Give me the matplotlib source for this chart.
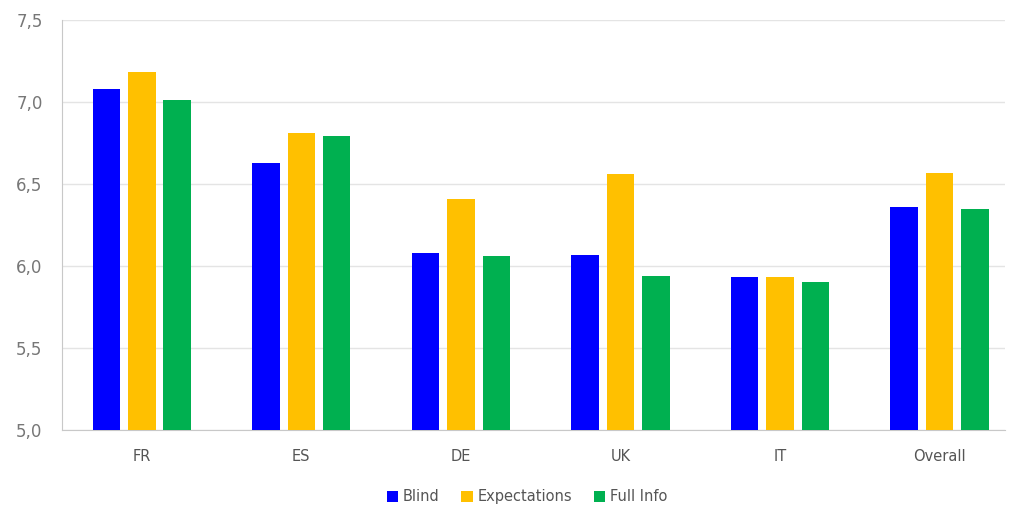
import matplotlib.pyplot as plt
import numpy as np

categories = ['FR', 'ES', 'DE', 'UK', 'IT', 'Overall']
blind = [7.08, 6.63, 6.08, 6.07, 5.93, 6.36]
expectations = [7.18, 6.81, 6.41, 6.56, 5.93, 6.57]
full_info = [7.01, 6.79, 6.06, 5.94, 5.90, 6.35]
yticks = [5.0, 5.5, 6.0, 6.5, 7.0, 7.5]

plt.rcParams['font.family'] = ['DejaVu Sans']

fig = plt.figure(figsize=(10.09, 5.11), dpi=100)
ax = fig.add_axes([62/1009, 81/511, 943/1009, 410/511])

x = np.arange(len(categories))
w = 0.172
off = 0.222
ax.bar(x - off, blind, w, color='#0000FF', label='Blind', zorder=3)
ax.bar(x, expectations, w, color='#FFC000', label='Expectations', zorder=3)
ax.bar(x + off, full_info, w, color='#00B050', label='Full Info', zorder=3)

# plot area is a bit narrower than six full category slots
ax.set_xlim(-0.5, 5.41)
ax.set_ylim(5.0, 7.5)
ax.set_yticks(yticks)
ax.set_yticklabels([('%.1f' % t).replace('.', ',') for t in yticks])
ax.set_xticks(x)
ax.set_xticklabels(categories)

ax.grid(axis='y', color='#e4e4e4', linewidth=1, zorder=0)
for s in ['top', 'right']:
    ax.spines[s].set_visible(False)
ax.spines['left'].set_color('#c8c8c8')
ax.spines['bottom'].set_color('#c8c8c8')
ax.tick_params(axis='y', length=0, pad=14, labelsize=12, labelcolor='#777777')
ax.tick_params(axis='x', length=0, pad=14, labelsize=10.5, labelcolor='#555555')

ax.legend(loc='upper center', bbox_to_anchor=(0.493, -0.113), ncol=3, frameon=False,
          fontsize=10.5, labelcolor='#555555', handlelength=0.8, handleheight=0.8,
          handletextpad=0.3, columnspacing=1.5)

fig.savefig('out.png', dpi=100)
